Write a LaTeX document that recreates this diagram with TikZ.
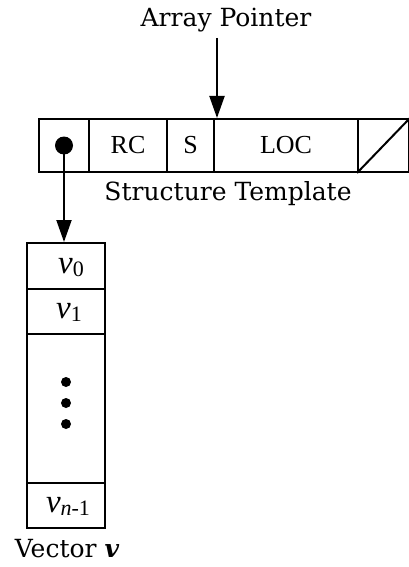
\documentclass[tikz,border=0pt]{standalone}
\usepackage{fontspec}
\setmainfont{Liberation Serif}
\newfontfamily\labelfont{DejaVu Serif}
\usetikzlibrary{arrows.meta}
\newcommand{\vsub}[1]{{\fontsize{33}{33}\selectfont\textit{v}}\raisebox{-3pt}{\fontsize{22}{22}\selectfont #1}}
\begin{document}
\begin{tikzpicture}[x=1pt,y=-1pt,
  cell/.style={draw,line width=2pt,rectangle,inner sep=0pt,anchor=north west,
    font=\fontsize{26}{26}\selectfont},
  caption/.style={font=\labelfont\fontsize{25}{25}\selectfont,inner sep=0pt},
  ptr/.style={line width=2pt,-{Triangle[length=22pt,width=15pt]}},
  bullet/.style={circle,fill,inner sep=0pt,minimum size=#1}]
\useasboundingbox (0,0) rectangle (409,567);
% structure template row
\node[cell,minimum width=50pt,minimum height=53pt] (tp) at (38,118) {};
\node[cell,minimum width=78pt,minimum height=53pt] (rc) at (88,118) {RC};
\node[cell,minimum width=47pt,minimum height=53pt] (s) at (166,118) {S};
\node[cell,minimum width=144pt,minimum height=53pt] (loc) at (213,118) {LOC};
\node[cell,minimum width=51pt,minimum height=53pt] (nil) at (357,118) {};
\draw[line width=2pt] (nil.south west) -- (nil.north east);
\node[bullet=18pt] (dot) at (tp.center) {};
% array pointer
\node[caption,anchor=base] (ap) at (226,27) {Array Pointer};
\coordinate (apin) at ([xshift=4pt]loc.north west);
\draw[ptr] (apin |- 0,38) coordinate (apstart) -- (apin);
\node[caption,anchor=base] (st) at (228,200) {Structure Template};
% vector cells
\node[cell,minimum width=78pt,minimum height=46pt] (v0) at (26,242) {};
\node[cell,minimum width=78pt,minimum height=45pt] (v1) at (26,288) {};
\node[cell,minimum width=78pt,minimum height=149pt] (vd) at (26,333) {};
\node[cell,minimum width=78pt,minimum height=45pt] (vn) at (26,482) {};
\node[inner sep=0pt,anchor=base] (t0) at (71,273) {\vsub{0}};
\node[inner sep=0pt,anchor=base] (t1) at (69,318) {\vsub{1}};
\node[inner sep=0pt,anchor=base] (tn) at (68,512) {\vsub{\textit{n}-1}};
\node[bullet=10pt] (d1) at (66,382) {};
\node[bullet=10pt] (d2) at (66,403) {};
\node[bullet=10pt] (d3) at (66,424) {};
\draw[ptr] (dot.center) -- (dot.center |- v0.north);
\node[caption,anchor=base] (vl) at (67,557) {Vector {\bfseries\itshape v}};
\end{tikzpicture}
\end{document}
